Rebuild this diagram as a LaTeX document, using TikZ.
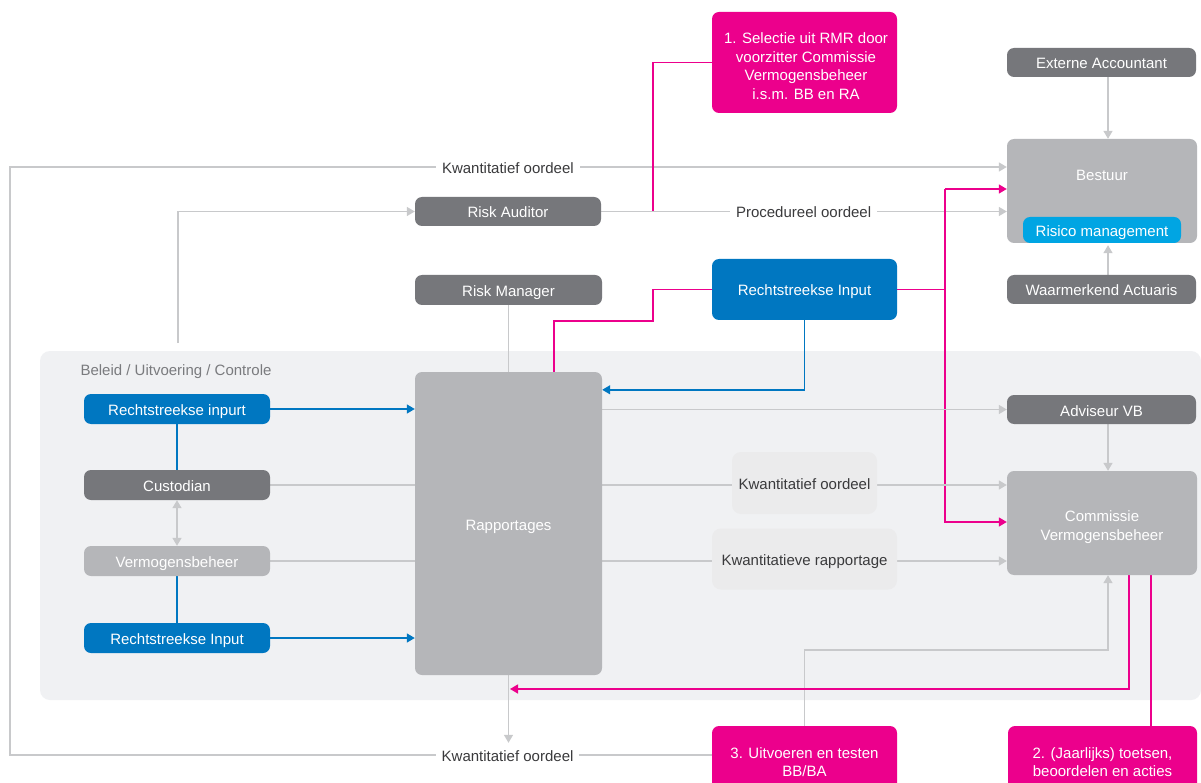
\documentclass[tikz,border=0pt]{standalone}
\usepackage{fontspec}
\setmainfont{Liberation Sans}
\usetikzlibrary{arrows.meta}
\definecolor{dgray}{HTML}{76777B}
\definecolor{lgray}{HTML}{B5B6B9}
\definecolor{mblue}{HTML}{0077C1}
\definecolor{cyanb}{HTML}{00A5E3}
\definecolor{mag}{HTML}{EC008C}
\definecolor{panel}{HTML}{F0F1F3}
\definecolor{lblbox}{HTML}{EBEBEC}
\definecolor{cgray}{HTML}{C8C9CB}
\definecolor{txt}{HTML}{3A3A3C}
\definecolor{ptxt}{HTML}{7A7B7E}
\pgfdeclarelayer{bg}\pgfdeclarelayer{conn}\pgfsetlayers{bg,conn,main}
\begin{document}
\begin{tikzpicture}[x=1pt,y=-1pt,
  font=\fontsize{15}{18.5}\selectfont,
  box/.style={rounded corners=7pt, text=white, align=center, inner sep=0pt},
  sl/.style={text height=13pt, text depth=0pt},
  lblboxst/.style={rounded corners=9pt, fill=lblbox, text=txt, align=center, inner sep=0pt, sl},
  lbl/.style={fill=white, text=txt, inner xsep=6pt, inner ysep=2pt, sl},
  gline/.style={draw=cgray, line width=1.4pt},
  pline/.style={draw=mag, line width=1.4pt},
  bline/.style={draw=mblue, line width=1.4pt},
  tip/.style={-{Triangle[length=8pt,width=9pt]}},
  dtip/.style={{Triangle[length=8pt,width=9pt]}-{Triangle[length=8pt,width=9pt]}}]
\useasboundingbox (0,0) rectangle (1201,783);
\begin{pgfonlayer}{bg}
\fill[white] (0,0) rectangle (1201,783);
\fill[panel, rounded corners=10pt] (40,351) rectangle (1201,700);
\end{pgfonlayer}
\node[anchor=west, text=ptxt, sl] (beleid) at (77,369) {Beleid / Uitvoering / Controle};

% nodes
\node[box,fill=mag,minimum width=185,minimum height=101] (sel) at (804.5,62.5) {};
\node[text=white, align=center, inner sep=0pt] (seltxt) at (806,66) {1. Selectie uit RMR door\\ voorzitter Commissie\\ Vermogensbeheer\\ i.s.m. BB en RA};
\node[box,sl,fill=dgray,minimum width=189,minimum height=29] (ext) at (1101.5,62.5) {Externe Accountant};
\node[box,fill=lgray,minimum width=190,minimum height=104] (bestuur) at (1102,191) {};
\node[text=white, sl, inner sep=0pt] (bestuurtxt) at (1102,174) {Bestuur};
\node[box,sl,fill=cyanb,minimum width=158,minimum height=26] (risico) at (1102,230) {Risico management};
\node[box,sl,fill=dgray,minimum width=189,minimum height=29] (wa) at (1101.5,289.5) {Waarmerkend Actuaris};
\node[box,sl,fill=dgray,minimum width=186,minimum height=29] (ra) at (508,211.5) {Risk Auditor};
\node[box,sl,fill=dgray,minimum width=187,minimum height=30] (rm) at (508.5,290) {Risk Manager};
\node[box,sl,fill=mblue,minimum width=185,minimum height=61] (ri) at (804.5,289.5) {Rechtstreekse Input};
\node[box,sl,fill=lgray,minimum width=187,minimum height=303] (rapp) at (508.5,523.5) {Rapportages};
\node[box,sl,fill=mblue,minimum width=186,minimum height=30] (lin1) at (177,409) {Rechtstreekse inpurt};
\node[box,sl,fill=dgray,minimum width=186,minimum height=30] (cust) at (177,485) {Custodian};
\node[box,sl,fill=lgray,minimum width=186,minimum height=30] (verm) at (177,561) {Vermogensbeheer};
\node[box,sl,fill=mblue,minimum width=186,minimum height=30] (lin2) at (177,638) {Rechtstreekse Input};
\node[box,sl,fill=dgray,minimum width=189,minimum height=29] (adv) at (1101.5,409.5) {Adviseur VB};
\node[box,fill=lgray,minimum width=190,minimum height=104] (cvb) at (1102,523) {};
\node[text=white, align=center, inner sep=0pt] (cvbtxt) at (1102,527) {Commissie\\ Vermogensbeheer};
\node[lblboxst,minimum width=145,minimum height=62] (kq) at (804.5,483) {Kwantitatief oordeel};
\node[lblboxst,minimum width=185,minimum height=61] (kr) at (804.5,559) {Kwantitatieve rapportage};
\node[box,fill=mag,minimum width=185,minimum height=69] (p3) at (804.5,760.5) {};
\node[text=white, align=center, inner sep=0pt] (p3txt) at (804.5,762) {3. Uitvoeren en testen\\ BB/BA};
\node[box,fill=mag,minimum width=189,minimum height=69] (p2) at (1102.5,760.5) {};
\node[text=white, align=center, inner sep=0pt] (p2txt) at (1102.5,762) {2. (Jaarlijks) toetsen,\\ beoordelen en acties};

% coordinates
\coordinate (lt) at (10,167);
\coordinate (lb) at (10,755);
\coordinate (rain) at (178,343);
\coordinate (pj) at (653,211.5);
\coordinate (pk) at (653,321);
\coordinate (pfTop) at (945,189);
\coordinate (pfBot) at (945,522);
\coordinate (arrX) at (1108,0);
\coordinate (g3) at (1108,650);
\coordinate (p4) at (1129,689);
\coordinate (p5) at (1151,0);

\begin{pgfonlayer}{conn}
% outer loop
\draw[gline,tip] (lb -| p3.west) -- node[lbl,pos=0.291] (kqlow) {Kwantitatief oordeel} (lb) -- (lt)
  -- node[lbl,pos=0.4995] (kqtop) {Kwantitatief oordeel} (lt -| bestuur.west);
\draw[gline,tip] (rapp.south) -- ([yshift=3pt]rapp.south |- kqlow.north);
\draw[gline] (rm.south) -- (rapp.north);
% risk auditor
\draw[gline,tip] (rain) |- (ra.west);
\draw[gline,tip] (ra.east) -- node[lbl,pos=0.499] (proc) {Procedureel oordeel} (ra.east -| bestuur.west);
\draw[pline] (sel.west) -| (pj);
% rechtstreekse input top
\draw[pline] (ri.west) -| (pk) -| ([xshift=45.5pt]rapp.north);
\draw[bline,tip] (ri.south) |- ([yshift=-18pt]rapp.north east);
\draw[pline] (ri.east) -- (ri.east -| pfTop);
\draw[pline,tip] (pfTop) -- (pfTop -| bestuur.west);
\draw[pline,tip] (pfTop) -- (pfBot) -- (pfBot -| cvb.west);
% right column
\draw[gline,tip] (ext.south -| arrX) -- (bestuur.north -| arrX);
\draw[gline,tip] (wa.north -| arrX) -- ([yshift=-2pt]bestuur.south -| arrX);
\draw[gline,tip] (adv.south -| arrX) -- (cvb.north -| arrX);
\draw[gline,tip] (adv.west -| rapp.east) -- (adv.west);
% left column
\draw[bline] (lin1.south) -- (cust.north);
\draw[bline] (verm.south) -- (lin2.north);
\draw[gline,dtip] (cust.south) -- (verm.north);
\draw[bline,tip] (lin1.east) -- (lin1.east -| rapp.west);
\draw[bline,tip] (lin2.east) -- (lin2.east -| rapp.west);
\draw[gline,tip] (cust.east) -- (cust.east -| cvb.west);
\draw[gline,tip] (verm.east) -- (verm.east -| cvb.west);
% bottom
\draw[gline,tip] (p3.north) |- (g3) -- (g3 |- cvb.south);
\draw[pline,tip] (p4 |- cvb.south) -- (p4) -- ([xshift=1.5pt]p4 -| rapp.south);
\draw[pline] (p5 |- p2.north) -- (p5 |- cvb.south);
\end{pgfonlayer}
\end{tikzpicture}
\end{document}
